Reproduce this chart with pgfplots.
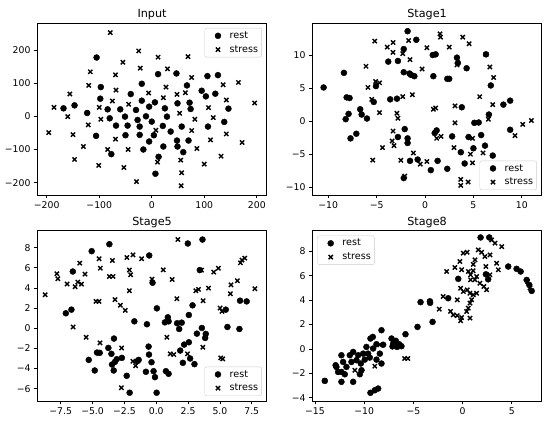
\documentclass[border=0pt]{standalone}
\usepackage{fontspec}
\setmainfont{DejaVu Sans}
\usepackage{pgfplots}
\pgfplotsset{compat=1.18}
\pgfplotsset{
  panel/.style={scale only axis, width=229.5pt,
    tick align=outside, tick pos=left, major tick length=3.3pt,
    axis line style={line width=0.75pt}, every tick/.style={black, line width=0.75pt},
    ticklabel style={font=\fontsize{9.3}{11}\selectfont},
    title style={font=\fontsize{11.2}{13}\selectfont, yshift=-6.5pt},
    legend style={font=\fontsize{9.6}{11.5}\selectfont, draw=black!20, rounded corners=2pt,
      fill=white, fill opacity=0.8, text opacity=1, inner xsep=2pt, inner ysep=2pt,
      row sep=2.5pt, nodes={inner sep=1.5pt}},
    legend cell align=left, clip=false},
  limg/.style={legend image code/.code={\draw[##1, opacity=1] plot coordinates {(11pt,0pt)};
     \path (0pt,0pt) (21pt,0pt);}},
  rest/.style={only marks, mark=*, mark size=3.0pt, black, limg},
  stress/.style={only marks, mark=x, mark size=3.0pt, black, mark options={line width=1.4pt}, limg},
  lne/.style={legend style={at={(1,1)}, anchor=north east, xshift=-5pt, yshift=-5pt}},
  lse/.style={legend style={at={(1,0)}, anchor=south east, xshift=-5pt, yshift=5pt}},
  lnw/.style={legend style={at={(0,1)}, anchor=north west, xshift=5pt, yshift=-5pt}},
}
\begin{document}
\begin{tikzpicture}
\path[use as bounding box] (0,0) rectangle (550pt,422pt);
% ---------------- Input
\begin{axis}[panel, lne, height=172pt, at={(37.3pt,227pt)}, anchor=south west,
  title={Input},
  xmin=-217.9, xmax=219, ymin=-237, ymax=281,
  xtick={-200,-100,0,100,200}, xticklabels={−200,−100,0,100,200},
  ytick={-200,-100,0,100,200}, yticklabels={−200,−100,0,100,200}]
\addplot[rest] coordinates {(-105,177) (-168,24) (-147,33) (-123,10) (-106,-59) (-97,88) (-98,53) (-84,21) (-80,-6) (-77,-114) (-68,-28) (-60,21) (-51,-1) (-46,-28) (-50,-57) (-40,67) (-30,19) (-27,-11) (-23,-31) (-23,-56) (-19,98) (-19,47) (-16,-100) (-11,0) (-5,29) (0,-16) (-5,-76) (6,42) (4,-57) (7,-173) (12,127) (13,-122) (21,-29) (22,-91) (25,24) (29,-1) (36,-46) (47,129) (49,39) (48,-73) (49,-91) (57,-31) (60,-108) (67,93) (70,-73) (72,41) (74,22) (95,77) (103,60) (106,121) (107,-31) (121,68) (126,124) (138,-17) (146,23)};
\addlegendentry{rest}
\addplot[stress] coordinates {(-79,252) (-196,-49) (-186,27) (-156,67) (-160,-1) (-150,-55) (-147,-130) (-130,-91) (-121,-26) (-120,93) (-117,134) (-101,-148) (-100,27) (-97,-9) (-84,-100) (-75,46) (-69,125) (-68,79) (-69,-69) (-55,163) (-53,-154) (-44,36) (-45,-100) (-29,-197) (-25,197) (-22,145) (-6,70) (8,-42) (11,-138) (12,178) (22,56) (27,88) (30,143) (48,66) (53,9) (55,-132) (57,-170) (56,-209) (64,71) (69,180) (76,117) (76,-43) (82,-9) (86,-97) (100,-144) (108,26) (117,-4) (112,-71) (132,-120) (136,95) (142,49) (142,-53) (165,102) (172,-79) (196,40)};
\addlegendentry{stress}
\end{axis}
% ---------------- Stage1
\begin{axis}[panel, lse, height=172pt, at={(312.3pt,227pt)}, anchor=south west,
  title={Stage1},
  xmin=-11.65, xmax=12.07, ymin=-11.16, ymax=14.84,
  xtick={-10,-5,0,5,10}, xticklabels={−10,−5,0,5,10},
  ytick={-10,-5,0,5,10}, yticklabels={−10,−5,0,5,10}]
\addplot[rest] coordinates {(-10.48,5.09) (-8.38,7.3) (-8.1,3.6) (-7.8,3.5) (-7.9,1.1) (-8.2,0.3) (-7.7,-2.6) (-7.1,-1.9) (-6.7,1.8) (-6.55,1.0) (-6.0,0.4) (-5.3,2.9) (-5.07,5.3) (-3.8,9.0) (-3.6,3.3) (-2.9,3.4) (-2.8,9.1) (-2.8,-2.4) (-2.2,10.9) (-2.1,-1.2) (-2.2,7.4) (-2.2,-8.6) (-1.8,13.6) (-1.8,-2.6) (-1.8,-3.3) (-1.6,7.2) (-1.45,7.0) (-1.1,6.8) (-1.55,-6.0) (-0.9,12.3) (-0.76,-5.8) (0.6,-7.4) (0.8,10.0) (1.1,10.1) (0.86,6.8) (1.2,-1.4) (1.0,-1.8) (1.3,-6.0) (2.3,-7.2) (2.3,6.4) (2.5,6.4) (2.8,-2.3) (3.3,9.6) (3.4,8.8) (3.8,2.1) (3.7,-4.7) (4.3,8.0) (4.5,-2.4) (4.1,-6.4) (5.0,-4.1) (5.1,-0.25) (5.55,-0.2) (5.8,-2.1) (6.2,-3.7) (6.6,1.0) (6.8,5.4) (7.0,-5.2) (8.1,2.5) (8.8,3.1) (8.8,-1.3) (6.3,10.1)};
\addlegendentry{rest}
\addplot[stress] coordinates {(-5.2,12.1) (-3.9,11.2) (-3.3,11.9) (-3.3,10.4) (-6.1,8.3) (-5.9,5.1) (-5.5,3.3) (-5.1,6.0) (-4.7,5.8) (-4.7,1.3) (-5.4,-5.9) (-4.4,-4.0) (-3.3,-1.5) (-3.4,-3.0) (-3.2,-3.7) (-2.9,1.2) (-2.8,0.45) (-2.3,10.2) (-2.3,3.7) (-2.5,-5.9) (-2.1,-8.3) (-1.7,12.2) (-1.55,9.3) (-1.3,4.0) (-1.2,-4.8) (-0.5,-6.5) (-0.3,7.9) (0.2,11.1) (0.2,-6.1) (0.86,1.8) (1.1,2.0) (1.2,-2.6) (1.65,-2.3) (1.55,13.2) (1.6,12.7) (2.5,11.2) (3.1,2.3) (3.1,-0.25) (3.0,-4.0) (3.3,8.5) (3.9,12.7) (4.55,11.7) (3.7,-8.8) (3.7,-9.7) (4.45,-9.2) (4.7,-5.0) (4.9,-2.6) (4.9,-6.3) (5.65,3.7) (6.0,-4.8) (6.3,10.1) (6.7,8.2) (6.55,0.3) (7.1,6.6) (7.0,2.5) (10.1,-0.5) (11.0,0.1) (9.3,-2.2)};
\addlegendentry{stress}
\end{axis}
% ---------------- Stage5
\begin{axis}[panel, lse, height=170.5pt, at={(37.3pt,21pt)}, anchor=south west,
  title={Stage5},
  xmin=-9.34, xmax=8.68, ymin=-7.22, ymax=9.71,
  xtick={-7.5,-5,-2.5,0,2.5,5,7.5}, xticklabels={−7.5,−5.0,−2.5,0.0,2.5,5.0,7.5},
  ytick={-6,-4,-2,0,2,4,6,8}, yticklabels={−6,−4,−2,0,2,4,6,8}]
\addplot[rest] coordinates {(-5.07,7.66) (-3.68,8.35) (-0.55,7.23) (2.48,8.42) (3.63,8.81) (-6.55,5.64) (-0.29,4.52) (-7.1,1.49) (-6.66,1.85) (-1.72,0.69) (-0.73,0.40) (0.05,1.98) (0.68,0.59) (0.91,1.09) (0.97,0.69) (1.64,0.50) (2.0,0.56) (1.8,-0.07) (2.56,1.32) (2.85,2.28) (3.42,5.78) (3.89,-0.56) (3.58,0.03) (3.84,-0.96) (3.19,-0.53) (5.59,0.13) (5.46,1.85) (6.53,-0.07) (6.58,2.74) (7.1,2.67) (-5.3,-3.14) (-4.83,-4.19) (-4.65,-2.41) (-4.44,-2.44) (-3.76,-1.95) (-3.52,-2.54) (-3.32,-1.02) (-3.47,-3.6) (-3.34,-4.19) (-3.24,-3.33) (-3.1,-3.07) (-2.7,-2.94) (-2.32,-4.72) (-2.09,-6.4) (-1.49,-3.27) (-1.38,-3.14) (-0.81,-4.32) (-0.6,-1.82) (-0.57,-2.61) (-0.37,-3.37) (-0.21,-4.26) (-0.1,-4.85) (0.03,-6.4) (0.76,-4.26) (0.97,-4.52) (1.88,-2.21) (2.09,-3.43) (2.19,-1.62) (2.56,-1.39) (2.66,-3.0) (3.0,-3.56)};
\addlegendentry{rest}
\addplot[stress] coordinates {(-8.72,3.33) (-7.8,5.41) (-7.73,4.92) (-7.0,4.39) (-6.37,4.13) (-6.16,4.59) (-5.87,4.39) (-6.0,6.47) (-5.59,5.38) (-5.5,-0.89) (-6.53,0.13) (-4.73,2.67) (-4.49,2.67) (-4.49,6.9) (-4.39,5.97) (-4.41,-1.45) (-3.68,5.15) (-3.39,5.15) (-3.45,6.73) (-3.24,2.84) (-2.82,2.28) (-2.72,-1.95) (-2.43,1.78) (-2.74,-5.91) (-2.3,7.03) (-2.11,5.78) (-2.01,5.31) (-2.11,3.73) (-1.83,7.29) (-1.83,-3.27) (-1.62,-3.73) (-1.15,6.9) (-0.34,4.88) (0.55,5.81) (0.84,-0.89) (1.25,4.85) (1.1,-2.54) (1.38,-2.61) (1.62,2.94) (1.7,8.81) (2.45,-2.54) (3.11,3.73) (3.32,3.86) (3.55,5.78) (3.68,2.74) (3.66,-1.88) (4.1,3.99) (4.52,5.58) (4.88,5.97) (5.01,2.01) (5.17,1.68) (5.07,-2.94) (5.22,-3.04) (5.82,3.43) (5.87,4.32) (6.37,4.72) (6.61,6.5) (6.74,6.77) (6.95,6.96) (7.75,3.93)};
\addlegendentry{stress}
\end{axis}
% ---------------- Stage8
\begin{axis}[panel, lnw, height=170.5pt, at={(312.3pt,21pt)}, anchor=south west,
  title={Stage8},
  xmin=-15.27, xmax=8.05, ymin=-4.27, ymax=9.70,
  xtick={-15,-10,-5,0,5}, xticklabels={−15,−10,−5,0,5},
  ytick={-4,-2,0,2,4,6,8}, yticklabels={−4,−2,0,2,4,6,8}]
\addplot[rest] coordinates {(-14.0,-2.62) (-12.31,-2.7) (-11.12,-2.7) (-9.36,-3.6) (-8.92,-3.39) (-8.58,-3.25) (-8.24,1.53) (-9.12,0.98) (-9.36,0.85) (-8.75,0.38) (-9.09,0.03) (-8.41,-0.39) (-9.6,-0.39) (-9.94,-0.88) (-10.34,-1.2) (-10.44,-2.08) (-11.12,-0.25) (-11.46,-0.52) (-11.29,-1.07) (-11.8,-1.48) (-12.14,-1.07) (-12.31,-0.52) (-12.82,-1.48) (-12.65,-1.89) (-12.31,-1.89) (-11.97,-2.08) (-10.78,-0.93) (-10.61,-0.52) (-10.1,-0.39) (-10.27,-1.75) (-9.77,0.16) (-9.43,-0.71) (-8.75,-0.88) (-8.24,-1.2) (-8.07,0.34) (-12.9,-1.34) (-4.58,1.80) (-5.80,1.2) (-7.22,0.85) (-6.78,0.66) (-6.44,0.38) (-6.21,0.22) (-7.05,0.43) (-7.12,0.2) (-6.65,0.16) (-4.27,3.83) (-3.32,3.9) (-3.3,3.77) (-3.05,2.21) (-1.46,4.15) (-0.44,5.74) (1.83,9.13) (2.71,9.13) (4.64,6.75) (5.49,6.56) (5.9,6.34) (6.51,5.65) (6.78,5.24) (7.02,4.75) (2.37,6.11) (2.6,5.7)};
\addlegendentry{rest}
\addplot[stress] coordinates {(-14.0,-2.62) (-8.41,0.34) (-8.92,-1.42) (-5.89,-0.79) (-5.56,-0.79) (-10.95,-1.75) (2.95,8.93) (3.29,8.66) (3.97,8.38) (1.59,8.11) (1.93,7.92) (0.07,7.84) (0.47,7.92) (2.78,7.7) (2.27,7.57) (1.26,7.3) (-0.27,7.16) (1.08,6.93) (2.37,6.75) (3.46,7.02) (3.63,6.48) (-1.63,6.34) (-0.78,6.67) (-0.1,6.48) (0.58,6.34) (0.81,6.07) (1.08,6.4) (1.42,5.93) (0.81,5.66) (1.25,5.66) (2.78,6.07) (1.76,5.38) (2.17,5.11) (2.44,4.84) (-0.2,4.97) (0.07,4.7) (0.47,4.84) (0.75,4.56) (1.08,4.43) (1.42,4.56) (0.92,4.02) (0.75,3.75) (0.58,3.34) (0.41,3.06) (-1.97,4.29) (-0.54,4.02) (-2.37,3.25) (-1.22,3.07) (-0.95,2.79) (-0.54,2.73) (-0.1,2.57) (-0.2,2.3) (0.75,2.52) (6.6,5.5) (6.85,5.0)};
\addlegendentry{stress}
\end{axis}
\end{tikzpicture}
\end{document}
